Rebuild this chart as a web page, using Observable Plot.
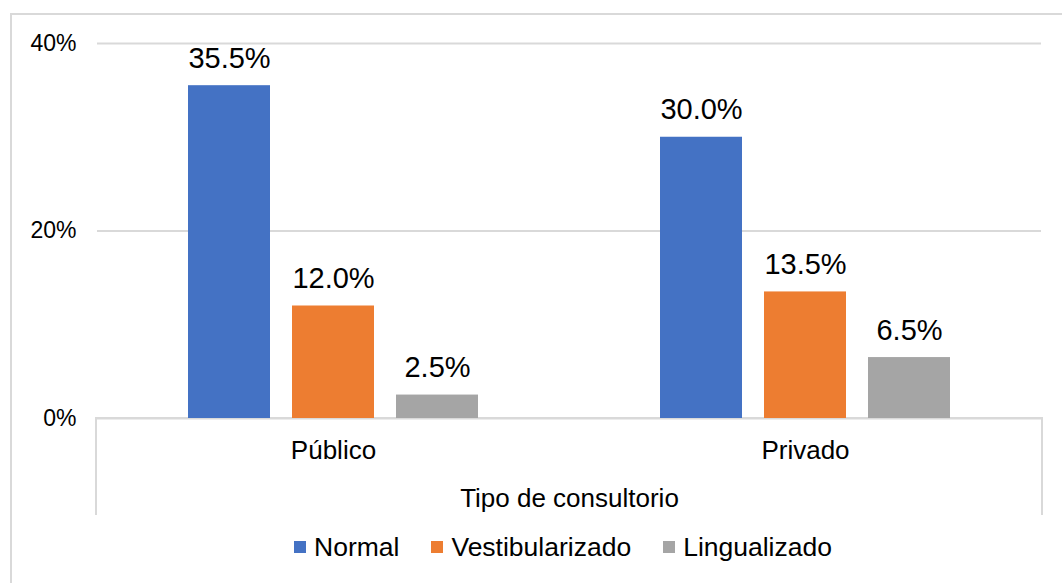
<!DOCTYPE html>
<html>
<head>
<meta charset="utf-8">
<script src="https://cdn.jsdelivr.net/npm/d3@7"></script>
<script src="https://cdn.jsdelivr.net/npm/@observablehq/plot@0.6"></script>
<style>
  html, body { margin: 0; padding: 0; background: #fff; }
  #wrap { position: relative; width: 1062px; height: 583px; overflow: hidden; font-family: "Liberation Sans", Arial, sans-serif; color: #000; }
  #outer { position: absolute; left: 10px; top: 13px; width: 1200px; height: 800px; border-left: 2px solid #d9d9d9; border-top: 2px solid #d9d9d9; }
  #chart { position: absolute; left: 0; top: 0; }
  #catbox { position: absolute; left: 95px; top: 417px; width: 944px; height: 96px; border: 2px solid #d9d9d9; border-bottom: none; }
  #legend { position: absolute; left: 0; width: 1126px; top: 532px; height: 30px; display: flex; justify-content: center; align-items: center; font-size: 26.5px; line-height: 30px; }
  .item { display: flex; align-items: center; margin: 0 16px; }
  .sw { width: 12px; height: 12px; margin-right: 8px; }
</style>
</head>
<body>
<div id="wrap">
  <div id="outer"></div>
  <div id="catbox"></div>
  <div id="chart"></div>
  <div id="legend"></div>
</div>
<script>
const groups = ["Público", "Privado"];
const series = ["Normal", "Vestibularizado", "Lingualizado"];
const colors = ["#4472C4", "#ED7D31", "#A5A5A5"];
const normal = [35.5, 30.0];
const vestibularizado = [12.0, 13.5];
const lingualizado = [2.5, 6.5];
const yTicks = [0, 20, 40];
const axisTitle = "Tipo de consultorio";

const valuesBySeries = [normal, vestibularizado, lingualizado];
const data = groups.flatMap((g, i) =>
  series.map((s, j) => ({group: g, series: s, value: valuesBySeries[j][i]}))
);

const chart = Plot.plot({
  width: 1062,
  height: 525,
  marginTop: 43,
  marginBottom: 107,
  marginLeft: 96,
  marginRight: 21,
  style: {fontFamily: '"Liberation Sans", Arial, sans-serif', color: "#000", background: "transparent", overflow: "visible"},
  fx: {domain: groups, padding: 0, axis: null},
  x: {domain: series, paddingInner: 0.215, paddingOuter: 0.868, axis: null},
  y: {domain: [0, 40], axis: null},
  color: {domain: series, range: colors},
  marks: [
    Plot.gridY(yTicks, {stroke: "#d9d9d9", strokeOpacity: 1, strokeWidth: 2}),
    Plot.barY(data, {fx: "group", x: "series", y: "value", fill: "series"}),
    Plot.text(data, {fx: "group", x: "series", y: "value", text: d => d.value.toFixed(1) + "%", lineAnchor: "bottom", dy: -18, fontSize: 29, fill: "#000"}),
    Plot.axisY(yTicks, {label: null, tickSize: 0, tickPadding: 21, tickFormat: d => d + "%", fontSize: 23, fill: "#000"}),
    Plot.axisFx({anchor: "bottom", tickSize: 0, tickPadding: 22, fontSize: 26, fill: "#000", label: axisTitle, labelAnchor: "center", labelOffset: 88})
  ]
});
document.getElementById("chart").appendChild(chart);

const legend = document.getElementById("legend");
series.forEach((s, i) => {
  const item = document.createElement("div");
  item.className = "item";
  const sw = document.createElement("span");
  sw.className = "sw";
  sw.style.background = colors[i];
  const t = document.createElement("span");
  t.textContent = s;
  item.appendChild(sw);
  item.appendChild(t);
  legend.appendChild(item);
});
</script>
</body>
</html>
